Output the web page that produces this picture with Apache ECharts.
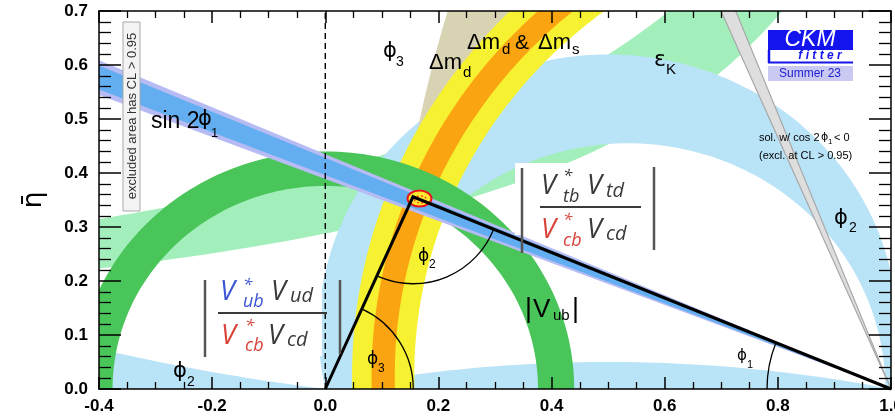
<!DOCTYPE html>
<html><head><meta charset="utf-8">
<script src="https://cdn.jsdelivr.net/npm/echarts@6/dist/echarts.min.js"></script>
<style>html,body{margin:0;padding:0;background:#fff;overflow:hidden}#c{width:895px;height:417px}</style>
</head><body><div id="c"></div>
<script>
// ---------------- data ----------------
const xRange = [-0.4, 1.0];
const yRange = [0.0, 0.7];
const xTickStep = 0.2;
const yTickStep = 0.1;
const apex = [0.155, 0.356];                 // fitted apex (rho, eta)
const apexRegion = [0.1665, 0.3528];         // centre of the 68% CL ellipse
const sin2phi1Outer = [0.389, 0.435];        // tan(phi1) of the outer band edges
const sin2phi1Inner = [0.396, 0.428];
const cos2phi1NegSlopes = [2.33, 2.55];      // other solution (cos 2phi1 < 0)
const vubRadii = [0.376, 0.44];              // |Vub| annulus around (0,0)
const dmCenter = [1.003, 0.025];             // dmd & dms circle
const dmRadius = 0.9007;
const dmOrangeHalfWidth = 0.0205;
const dmYellowHalfWidth = 0.055;
const dmdOnlyEdge = [2.63, 0.0, 2.513];      // left edge of dmd-only band (cx, cy, r)
const alphaOuterCircle = [0.5, 0.108, 0.5115];  // phi2 band outer edge (cx, cy, r)
const alphaInnerCircle = [0.535, 0.0, 0.455];   // phi2 band inner edge
const alphaLowLeftCentreY = 3.82;
const alphaLowMidCentreY = -2.475;
const epsKLower = [1.372, 0.395];            // eta = k / (a - rho)  : [a, k]
const epsKUpper = [1.43, 0.576];

// ---------------- geometry helpers ----------------
function arcPts(cx, cy, r, t0, t1, n) {
  const p = [];
  for (let i = 0; i <= n; i++) { const t = t0 + (t1 - t0) * i / n; p.push([cx + r * Math.cos(t), cy + r * Math.sin(t)]); }
  return p;
}
function crescent() {
  const [ox, oy, orr] = alphaOuterCircle, [ix, iy, ir] = alphaInnerCircle;
  const a0 = Math.atan2(-oy, Math.sqrt(orr * orr - oy * oy));
  const outer = arcPts(ox, oy, orr, a0, Math.PI - a0, 180);
  const inner = arcPts(ix, iy, ir, Math.PI, 0, 140);
  return outer.concat(inner);
}
function lowerLeftAlpha() {
  const cy = alphaLowLeftCentreY, r = Math.hypot(0.5, cy), p = [];
  for (let i = 0; i <= 40; i++) { const x = -0.5 + 0.5 * i / 40; p.push([x, cy - Math.sqrt(r * r - (x - 0.5) ** 2)]); }
  p.push([0, -0.02], [-0.5, -0.02]);
  return p;
}
function lowerMidAlpha() {
  const cy = alphaLowMidCentreY, r = Math.hypot(0.5, cy), p = [];
  for (let i = 0; i <= 60; i++) { const x = i / 60; p.push([x, cy + Math.sqrt(r * r - (x - 0.5) ** 2)]); }
  p.push([1, -0.02], [0, -0.02]);
  return p;
}
function hyperBand(lo, up) {
  const p = [], top = 0.8;
  const xl = lo[0] - lo[1] / top, xu = up[0] - up[1] / top;
  for (let i = 0; i <= 60; i++) { const x = -0.5 + (xl + 0.5) * i / 60; p.push([x, lo[1] / (lo[0] - x)]); }
  for (let i = 60; i >= 0; i--) { const x = -0.5 + (xu + 0.5) * i / 60; p.push([x, up[1] / (up[0] - x)]); }
  return p;
}
function annulus(c, r1, r2, t0, t1) {
  return arcPts(c[0], c[1], r2, t0, t1, 120).concat(arcPts(c[0], c[1], r1, t1, t0, 120));
}
function dmdOnly() {
  const [cx, cy, r] = dmdOnlyEdge;
  const left = arcPts(cx, cy, r, Math.PI - Math.asin(0.3 / r), Math.PI - Math.asin(0.8 / r), 40);
  const right = arcPts(dmCenter[0], dmCenter[1], dmRadius,
    Math.PI - Math.asin((0.8 - dmCenter[1]) / dmRadius), Math.PI - Math.asin((0.3 - dmCenter[1]) / dmRadius), 40);
  return left.concat(right);
}
function wedge(s) { return [[1, 0], [-0.6, 1.6 * s[1]], [-0.6, 1.6 * s[0]]]; }
function steepWedge(s) { return [[1, 0], [1 - 0.8 / s[0], 0.8], [1 - 0.8 / s[1], 0.8]]; }

function poly(pts, fill, stroke, lw) {
  return {
    type: 'custom', coordinateSystem: 'cartesian2d', clip: true, silent: true,
    data: [[0, 0]],
    renderItem: function (params, api) {
      return { type: 'polygon', shape: { points: pts.map(q => api.coord(q)) },
        style: { fill: fill, stroke: stroke || null, lineWidth: lw || 0 } };
    }
  };
}

const C = {
  alpha: '#b9e3f6', epsK: '#a2efbb', tan: '#d8d3b2', yellow: '#f6f231', orange: '#fba411',
  vub: '#4ac55a', lav: '#b7bbf4', blue: '#62aef0', grey: '#dedede'
};

const series = [
  poly(hyperBand(epsKLower, epsKUpper), C.epsK),
  poly(crescent(), C.alpha),
  poly(lowerLeftAlpha(), C.alpha),
  poly(lowerMidAlpha(), C.alpha),
  poly(dmdOnly(), C.tan),
  poly(annulus(dmCenter, dmRadius - dmYellowHalfWidth, dmRadius + dmYellowHalfWidth, 1.75, 3.25), C.yellow),
  poly(annulus(dmCenter, dmRadius - dmOrangeHalfWidth, dmRadius + dmOrangeHalfWidth, 1.75, 3.25), C.orange),
  poly(annulus([0, 0], vubRadii[0], vubRadii[1], 0, Math.PI), C.vub),
  poly(wedge(sin2phi1Outer), C.lav),
  poly(wedge(sin2phi1Inner), C.blue),
  poly(steepWedge(cos2phi1NegSlopes), C.grey, '#a8a8a8', 1.2),
  {
    type: 'custom', coordinateSystem: 'cartesian2d', clip: false, silent: true,
    data: [apex],
    renderItem: function (params, api) {
      const o = api.coord([0, 0]), a = api.coord(apex), b = api.coord([1, 0]);
      const top = api.coord([0, yRange[1]]);
      const e = api.coord(apexRegion);
      const A = (p, q) => Math.atan2(q[1] - p[1], q[0] - p[0]);
      const ls = { stroke: '#000', lineWidth: 1.3, fill: null };
      return { type: 'group', children: [
        { type: 'line', shape: { x1: o[0], y1: o[1], x2: top[0], y2: top[1] }, style: { stroke: '#000', lineWidth: 1.4, lineDash: [6, 4] } },
        { type: 'arc', shape: { cx: o[0], cy: o[1], r: 88, startAngle: A(o, a), endAngle: 0, clockwise: true }, style: ls },
        { type: 'arc', shape: { cx: a[0], cy: a[1], r: 87, startAngle: A(a, b), endAngle: A(a, o), clockwise: true }, style: ls },
        { type: 'arc', shape: { cx: b[0], cy: b[1], r: 124, startAngle: -Math.PI, endAngle: A(b, a), clockwise: true }, style: ls },
        { type: 'ellipse', shape: { cx: e[0], cy: e[1], rx: 12, ry: 8 }, style: { fill: '#ffe830', stroke: '#e8141c', lineWidth: 2 } },
        { type: 'ellipse', shape: { cx: e[0] + 1, cy: e[1] + 1, rx: 6, ry: 3.5 }, style: { fill: null, stroke: '#f05020', lineWidth: 1.5, lineDash: [2, 2] } },
        { type: 'polyline', shape: { points: [o, a, b] }, style: { stroke: '#000', lineWidth: 3, fill: null } }
      ]};
    }
  }
];

// ---------------- annotations ----------------
const SANS = 'Liberation Sans, Arial, Helvetica, sans-serif';
const GREEK = 'DejaVu Sans, sans-serif';
function T(x, y, text, size, o) {
  return { type: 'text', x: x, y: y, z: 100, silent: true,
    style: Object.assign({ text: text, fontSize: size, fontFamily: SANS, fill: '#000',
      textAlign: 'left', align: 'left', textVerticalAlign: 'middle', verticalAlign: 'middle' }, o || {}) };
}
function R(x, y, w, h, fill, stroke, lw) {
  return { type: 'rect', z: 90, silent: true, shape: { x: x, y: y, width: w, height: h },
    style: { fill: fill, stroke: stroke || null, lineWidth: lw || 0 } };
}
function L(x1, y1, x2, y2, c, w) {
  return { type: 'line', z: 95, silent: true, shape: { x1, y1, x2, y2 }, style: { stroke: c, lineWidth: w } };
}
const FORM = 'Open Sans, DejaVu Sans, sans-serif';
const fi = { fontFamily: FORM, fontStyle: 'italic' };
const gray = '#3a3a3a', fblue = '#3b55d6', fred = '#d8433a';
function F(x, y, t, s, c) { return T(x, y, t, s, Object.assign({ fill: c }, fi)); }
const G = { fontFamily: GREEK };

const graphics = [
  T(-13, 64, 't', 38, { fill: '#27b82a', fontWeight: 'bold' }),
  { type: 'text', x: 34, y: 200, rotation: Math.PI / 2, z: 100, silent: true,
    style: { text: 'η\u0304', fontSize: 27, fontFamily: GREEK, fill: '#000', textAlign: 'center', align: 'center', textVerticalAlign: 'middle', verticalAlign: 'middle' } },
  R(123, 22, 17, 189, '#f3f3f3', '#a9a9a9', 1),
  { type: 'text', x: 132, y: 116, rotation: Math.PI / 2, z: 100, silent: true,
    style: { text: 'excluded area has CL > 0.95', fontSize: 13, fontFamily: SANS, fill: '#333', textAlign: 'center', align: 'center', textVerticalAlign: 'middle', verticalAlign: 'middle' } },
  // band labels
  T(151, 122, 'sin 2', 23), T(198, 120, 'ϕ', 21, G), T(211, 133, '1', 13),
  T(383, 52, 'ϕ', 21, G), T(396, 62, '3', 14),
  T(429, 63, 'Δm', 22), T(463, 73, 'd', 15),
  T(467, 43, 'Δm', 22), T(502, 50, 'd', 15), T(515, 43, '&', 21), T(538, 43, 'Δm', 22), T(572, 50, 's', 15),
  T(654, 60, 'ε', 22, G), T(666, 70, 'K', 15),
  T(834, 219, 'ϕ', 21, G), T(849, 228, '2', 14),
  T(525, 310, '|', 27), T(533, 310, 'V', 26), T(553, 316, 'ub', 15), T(572, 310, '|', 27),
  T(418, 257, 'ϕ', 17, G), T(429, 265, '2', 12),
  T(367, 360, 'ϕ', 17, G), T(378, 369, '3', 12),
  T(737, 356, 'ϕ', 15, G), T(747, 365, '1', 11),
  T(173, 372, 'ϕ', 21, G), T(187, 382, '2', 14),
  // cos 2phi1 < 0 note
  T(759, 138, 'sol. w/ cos 2', 11), T(821, 137, 'ϕ', 11, G), T(828, 142, '1', 8), T(834, 138, '< 0', 11),
  T(759, 156, '(excl. at CL > 0.95)', 11),
  // CKMfitter logo
  R(768, 30, 85, 20, '#1414ee'),
  T(810, 40, 'CKM', 23, { fill: '#fff', fontStyle: 'italic', textAlign: 'center', align: 'center' }),
  R(768, 50, 85, 13, '#fff'),
  L(769, 50, 769, 63, '#1414ee', 2.5), L(768, 62.5, 853, 62.5, '#1414ee', 2),
  T(820, 56, 'f i t t e r', 12, { fill: '#1414ee', fontStyle: 'italic', fontWeight: 'bold', textAlign: 'center', align: 'center' }),
  R(768, 66, 85, 15, '#c9c9f2'),
  T(810, 73.5, 'Summer 23', 12, { fill: '#1c1cd0', textAlign: 'center', align: 'center' }),
  // |Vub* Vud / Vcb* Vcd|
  R(196, 278, 126, 78, '#fff'),
  L(205, 280, 205, 357, '#555', 2.5), L(340, 280, 340, 354, '#555', 2.5),
  L(218, 313, 327, 313, gray, 2),
  F(220, 292, 'V', 27, fblue), F(243, 285, '*', 17, fblue), F(243, 302, 'ub', 18, fblue),
  F(271, 292, 'V', 27, gray), F(290, 296, 'ud', 20, gray),
  F(221, 336, 'V', 27, fred), F(245, 326, '*', 17, fred), F(245, 346, 'cb', 18, fred),
  F(268, 336, 'V', 27, gray), F(287, 340, 'cd', 20, gray),
  // |Vtb* Vtd / Vcb* Vcd|
  R(515, 163, 145, 72, '#fff'),
  L(522, 168, 522, 253, '#555', 2.5), L(654, 167, 654, 250, '#555', 2.5),
  L(540, 207, 641, 207, gray, 2),
  F(541, 186, 'V', 27, gray), F(563, 176, '*', 17, gray), F(563, 197, 'tb', 18, gray),
  F(587, 186, 'V', 27, gray), F(606, 191, 'td', 20, gray),
  F(541, 230, 'V', 27, fred), F(563, 220, '*', 17, fred), F(563, 241, 'cb', 18, fred),
  F(587, 230, 'V', 27, gray), F(606, 234, 'cd', 20, gray)
];

// ---------------- axes ----------------
const lblStyle = { fontSize: 17, fontWeight: 'bold', color: '#000', fontFamily: SANS };
const axLine = { show: true, onZero: false, lineStyle: { color: '#000', width: 1.5 } };
function xAx(pos, labels) {
  return { type: 'value', position: pos, min: xRange[0], max: xRange[1], interval: xTickStep, z: 50,
    axisLine: axLine, splitLine: { show: false },
    axisTick: { inside: true, length: 12, lineStyle: { color: '#000', width: 1.5 } },
    minorTick: { show: true, splitNumber: 4, length: 7, lineStyle: { color: '#000', width: 1.3 } },
    axisLabel: Object.assign({ show: labels, margin: 9, formatter: v => v.toFixed(1), showMaxLabel: true, showMinLabel: true, hideOverlap: false }, lblStyle) };
}
function yAx(pos, labels) {
  return { type: 'value', position: pos, min: yRange[0], max: yRange[1], interval: yTickStep, z: 50,
    axisLine: axLine, splitLine: { show: false },
    axisTick: { inside: true, length: 22, lineStyle: { color: '#000', width: 1.5 } },
    minorTick: { show: true, splitNumber: 5, length: 12, lineStyle: { color: '#000', width: 1.3 } },
    axisLabel: Object.assign({ show: labels, margin: 11, formatter: v => v.toFixed(1) }, lblStyle) };
}

const chart = echarts.init(document.getElementById('c'), null, { renderer: 'canvas' });
chart.setOption({
  animation: false,
  backgroundColor: '#fff',
  grid: { left: 99, right: 4, top: 11, bottom: 28, containLabel: false, outerBoundsMode: 'none' },
  xAxis: [xAx('bottom', true), xAx('top', false)],
  yAxis: [yAx('left', true), yAx('right', false)],
  series: series,
  graphic: graphics
});
</script></body></html>
